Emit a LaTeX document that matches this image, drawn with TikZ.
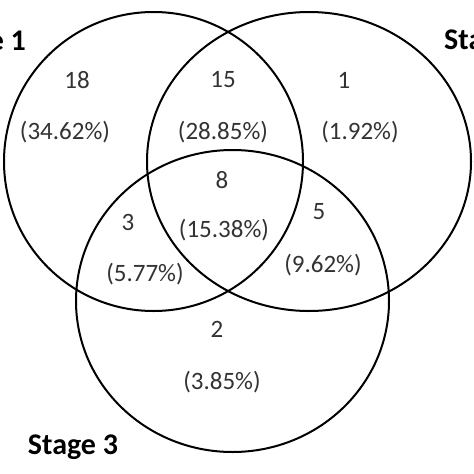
\documentclass[tikz,border=0pt]{standalone}
\usepackage{fontspec}
\setmainfont{Carlito}
\begin{document}
\begin{tikzpicture}[x=1pt,y=-1pt,
  setline/.style={line width=2pt, black},
  num/.style={font=\fontsize{25}{28}\selectfont, text=black!80, inner sep=0pt},
  lab/.style={font=\fontsize{30}{34}\selectfont\bfseries, inner sep=0pt}]
\useasboundingbox (0,0) rectangle (474,474);
\clip (0,0) rectangle (474,474);
\fill[white] (0,0) rectangle (474,474);
\draw[setline] (153.5,161.5) ellipse [x radius=149.5, y radius=149.5];
\draw[setline] (309,161.5) ellipse [x radius=162, y radius=149.5];
\draw[setline] (232.5,301) ellipse [x radius=156.5, y radius=151];
\node[num] (n18) at (77,80) {18};
\node[num] (p18) at (65,132) {(34.62\%)};
\node[num] (n15) at (223,80) {15};
\node[num] (p15) at (223,132) {(28.85\%)};
\node[num] (n1) at (344,80) {1};
\node[num] (p1) at (360,132) {(1.92\%)};
\node[num] (n8) at (222,180) {8};
\node[num] (p8) at (224,230) {(15.38\%)};
\node[num] (n3) at (128,222) {3};
\node[num] (p3) at (145,274) {(5.77\%)};
\node[num] (n5) at (319,212) {5};
\node[num] (p5) at (323,265) {(9.62\%)};
\node[num] (n2) at (217,329) {2};
\node[num] (p2) at (222,382) {(3.85\%)};
\node[lab, anchor=east] (s1) at (26,43) {Stage 1};
\node[lab, anchor=west] (s2) at (444,42) {Stage 2};
\node[lab] (s3) at (73,447) {Stage 3};
\end{tikzpicture}
\end{document}
